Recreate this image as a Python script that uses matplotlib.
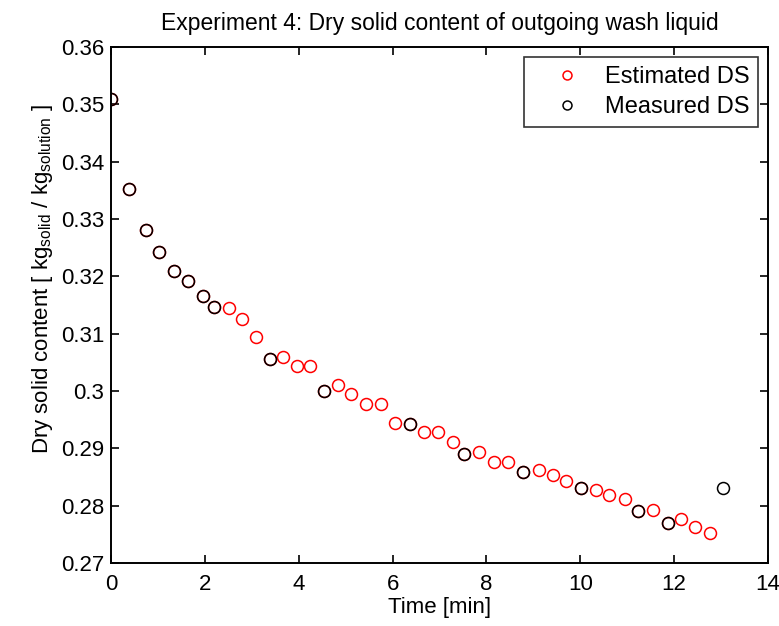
import numpy as np
import matplotlib
matplotlib.use("Agg")
import matplotlib.pyplot as plt

plt.rcParams['font.family'] = ['Liberation Sans', 'DejaVu Sans']
plt.rcParams['mathtext.fontset'] = 'custom'
plt.rcParams['mathtext.rm'] = 'Liberation Sans'
plt.rcParams['mathtext.it'] = 'Liberation Sans:italic'

# estimated dry solid content (red circles)
est_time = np.array([0, 0.38, 0.75, 1.03, 1.35, 1.63, 1.95, 2.20, 2.51, 2.80,
                     3.09, 3.38, 3.67, 3.96, 4.24, 4.54, 4.83, 5.12, 5.44, 5.76,
                     6.06, 6.38, 6.67, 6.96, 7.28, 7.53, 7.85, 8.17, 8.47, 8.77,
                     9.11, 9.41, 9.69, 10.01, 10.34, 10.62, 10.96, 11.24, 11.54, 11.86,
                     12.15, 12.44, 12.76])
est_ds = np.array([0.3510, 0.3352, 0.3281, 0.3242, 0.3210, 0.3192, 0.3165, 0.3147, 0.3144, 0.3126,
                   0.3094, 0.3055, 0.3060, 0.3044, 0.3044, 0.3000, 0.3010, 0.2994, 0.2978, 0.2978,
                   0.2944, 0.2942, 0.2928, 0.2928, 0.2911, 0.2891, 0.2894, 0.2877, 0.2877, 0.2859,
                   0.2862, 0.2853, 0.2843, 0.2830, 0.2827, 0.2819, 0.2811, 0.2790, 0.2793, 0.2770,
                   0.2777, 0.2762, 0.2753])

# measured dry solid content (black circles)
meas_time = np.array([0, 0.38, 0.75, 1.03, 1.35, 1.63, 1.95, 2.20, 3.38, 4.54,
                      6.38, 7.53, 8.77, 10.01, 11.24, 11.86, 13.04])
meas_ds = np.array([0.3510, 0.3352, 0.3281, 0.3242, 0.3210, 0.3192, 0.3165, 0.3147, 0.3055, 0.3000,
                    0.2942, 0.2891, 0.2859, 0.2830, 0.2790, 0.2770, 0.2830])

yticks = [0.27, 0.28, 0.29, 0.30, 0.31, 0.32, 0.33, 0.34, 0.35, 0.36]
ytick_labels = ['0.27', '0.28', '0.29', '0.3', '0.31', '0.32', '0.33', '0.34', '0.35', '0.36']

fs = 16
fig = plt.figure(figsize=(7.79, 6.26), dpi=100)
ax = fig.add_axes([0.1425, 0.1006, 0.8434, 0.8243])

ax.plot(est_time, est_ds, 'o', mfc='none', mec='red', ms=8.6, mew=1.1, label='Estimated DS')
ax.plot(meas_time, meas_ds, 'o', mfc='none', mec='black', ms=8.6, mew=1.1, label='Measured DS')

ax.set_xlim(0, 14)
ax.set_ylim(0.27, 0.36)
ax.set_xticks(np.arange(0, 15, 2))
ax.set_yticks(yticks)
ax.set_yticklabels(ytick_labels)
ax.tick_params(direction='in', top=True, right=True, labelsize=fs, length=6, width=1.2, pad=5)
ax.tick_params(axis='x', pad=8)
for s in ax.spines.values():
    s.set_linewidth(1.4)

ax.set_xlabel('Time [min]', fontsize=fs, labelpad=1)
ax.set_ylabel(r'Dry solid content [ kg$_{\mathrm{solid}}$ / kg$_{\mathrm{solution}}$ ]', fontsize=fs, labelpad=4)
ax.yaxis.label.set_y(0.55)
ax.set_title('Experiment 4: Dry solid content of outgoing wash liquid', fontsize=16.5, pad=12)

leg = ax.legend(loc='upper right', fontsize=17, frameon=True, fancybox=False, markerscale=0.75,
                borderaxespad=0.42, handlelength=2.9, handletextpad=0.15, labelspacing=0.36,
                borderpad=0.38)
leg.get_frame().set_edgecolor('black')
leg.get_frame().set_linewidth(1.2)

fig.savefig('out.png', dpi=100)
